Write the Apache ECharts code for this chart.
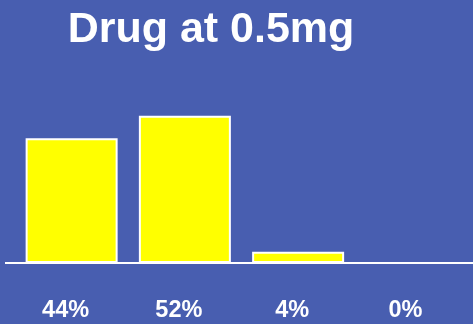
<!DOCTYPE html>
<html>
<head>
<meta charset="utf-8">
<script src="https://cdn.jsdelivr.net/npm/echarts@6/dist/echarts.min.js"></script>
<style>
html,body{margin:0;padding:0;background:#485eb0;}
#main{width:473px;height:324px;}
</style>
</head>
<body>
<div id="main"></div>
<script>
const titleText = 'Drug at 0.5mg';
const categories = ['44%', '52%', '4%', '0%'];
const values = [44, 52, 4, 0];

const chart = echarts.init(document.getElementById('main'), null, {renderer: 'canvas'});
chart.setOption({
  backgroundColor: '#485eb0',
  animation: false,
  title: {
    text: titleText,
    left: 206,
    textAlign: 'center',
    top: 4,
    textStyle: {color: '#ffffff', fontSize: 43, fontWeight: 'bold', fontFamily: 'Liberation Sans, Arial, sans-serif'}
  },
  grid: {left: 15, right: 5, top: 93, bottom: 61},
  xAxis: {
    type: 'category',
    data: categories,
    axisLine: {show: true, lineStyle: {color: '#ffffff', width: 2}},
    axisTick: {show: false},
    axisLabel: {
      color: '#ffffff', fontSize: 23.5, fontWeight: 'bold',
      fontFamily: 'Liberation Sans, Arial, sans-serif',
      margin: 36, padding: [0, 12, 0, 0]
    }
  },
  yAxis: {
    type: 'value', min: 0, max: 60,
    show: false,
    splitLine: {show: false}
  },
  graphic: [{
    type: 'line',
    z: 0,
    shape: {x1: 5, y1: 263, x2: 473, y2: 263},
    style: {stroke: '#ffffff', lineWidth: 2}
  }],
  series: [{
    type: 'bar',
    data: values,
    barWidth: 92,
    itemStyle: {color: '#ffff00', borderColor: '#ffffff', borderWidth: 2}
  }]
});
</script>
</body>
</html>
